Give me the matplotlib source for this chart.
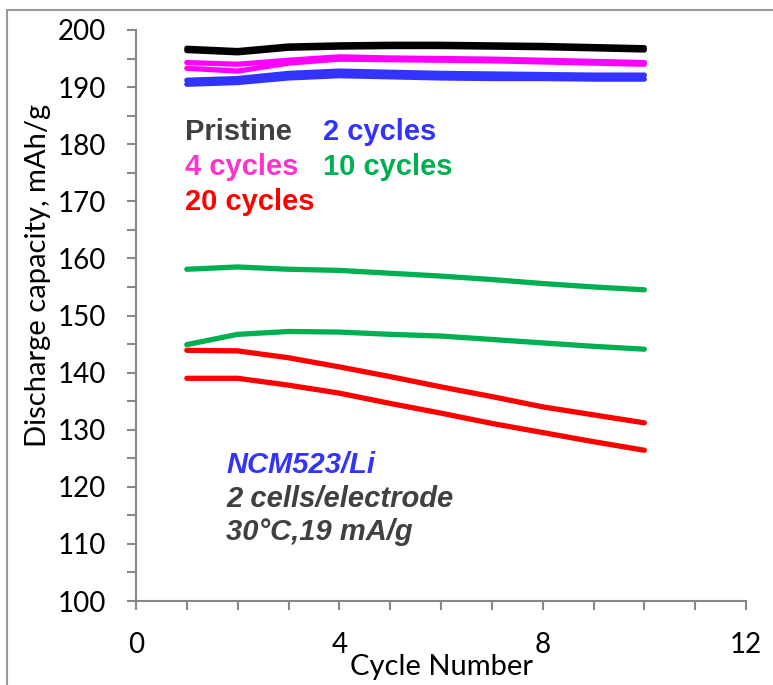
import numpy as np
import matplotlib
matplotlib.use("Agg")
import matplotlib.pyplot as plt
from matplotlib.patches import Rectangle
from matplotlib.ticker import MultipleLocator

cycles = [1, 2, 3, 4, 5, 6, 7, 8, 9, 10]

# two cells per electrode state
pristine_a = [196.8, 196.4, 197.2, 197.4, 197.5, 197.5, 197.4, 197.3, 197.1, 196.9]
pristine_b = [196.4, 196.0, 196.8, 197.0, 197.1, 197.1, 197.0, 196.9, 196.7, 196.5]
two_a = [191.2, 191.5, 192.4, 192.8, 192.6, 192.4, 192.3, 192.2, 192.1, 192.1]
two_b = [190.5, 190.8, 191.6, 192.0, 191.8, 191.6, 191.5, 191.5, 191.4, 191.4]
four_a = [194.3, 194.0, 194.7, 195.3, 195.1, 195.0, 194.9, 194.7, 194.5, 194.3]
four_b = [193.3, 192.8, 194.2, 194.9, 194.8, 194.7, 194.6, 194.4, 194.2, 194.0]
ten_a = [158.1, 158.5, 158.1, 157.9, 157.4, 156.9, 156.3, 155.6, 155.0, 154.5]
ten_b = [144.9, 146.7, 147.2, 147.1, 146.7, 146.4, 145.8, 145.2, 144.6, 144.1]
twenty_a = [143.9, 143.8, 142.6, 141.0, 139.3, 137.5, 135.8, 134.0, 132.6, 131.2]
twenty_b = [139.0, 139.0, 137.8, 136.4, 134.6, 132.9, 131.1, 129.5, 127.9, 126.4]

series = [
    (pristine_a, "black"), (pristine_b, "black"),
    (four_a, "#FF00FF"), (four_b, "#FF00FF"),
    (two_a, "#3333FF"), (two_b, "#3333FF"),
    (ten_a, "#00B050"), (ten_b, "#00B050"),
    (twenty_a, "#FF0000"), (twenty_b, "#FF0000"),
]

fig = plt.figure(figsize=(7.73, 6.85), dpi=100)
fig.patches.append(Rectangle((7 / 773, -0.1), 1.2, (685 - 10) / 685 + 0.1,
                             transform=fig.transFigure, fill=False,
                             edgecolor="#9a9a9a", linewidth=1.5))
ax = fig.add_axes([136 / 773, 84 / 685, 610 / 773, 571 / 685])

for vals, col in series:
    ax.plot(cycles, vals, color=col, linewidth=3.8, solid_capstyle="round",
            solid_joinstyle="round")

ax.set_xlim(0, 12)
ax.set_ylim(100, 200)
ax.xaxis.set_major_locator(MultipleLocator(4))
ax.xaxis.set_minor_locator(MultipleLocator(1))
ax.yaxis.set_major_locator(MultipleLocator(10))
ax.yaxis.set_minor_locator(MultipleLocator(5))

for s in ["top", "right"]:
    ax.spines[s].set_visible(False)
for s in ["left", "bottom"]:
    ax.spines[s].set_color("#888888")
    ax.spines[s].set_linewidth(1.5)

ax.tick_params(which="both", direction="out", color="#888888", width=1.5,
               length=6.5, labelsize=20)
ax.tick_params(axis="y", pad=15)
ax.tick_params(axis="x", pad=16)
for lab in ax.get_xticklabels() + ax.get_yticklabels():
    lab.set_family("Lato")

ax.set_xlabel("Cycle Number", fontsize=21, family="Lato")
ax.set_ylabel("Discharge capacity, mAh/g", fontsize=21, family="Lato")
ax.xaxis.set_label_coords(0.5, -0.092)
ax.yaxis.set_label_coords(-0.139, 0.571)

txt = dict(fontsize=21, fontweight="bold", family="Liberation Sans",
           va="baseline", transform=ax.transData)
ax.text(0.96, 180.7, "Pristine", color="#404040", **txt)
ax.text(3.68, 180.7, "2 cycles", color="#3333FF", **txt)
ax.text(0.96, 174.6, "4 cycles", color="#FF33CC", **txt)
ax.text(3.68, 174.6, "10 cycles", color="#00B050", **txt)
ax.text(0.96, 168.5, "20 cycles", color="#FF0000", **txt)

ax.text(1.78, 122.4, "NCM523/Li", color="#3333FF", style="italic", **txt)
ax.text(1.78, 116.4, "2 cells/electrode", color="#404040", style="italic", **txt)
ax.text(1.78, 110.7, "30\u00b0C,19 mA/g", color="#404040", style="italic", **txt)

fig.savefig("out.png", dpi=100)
